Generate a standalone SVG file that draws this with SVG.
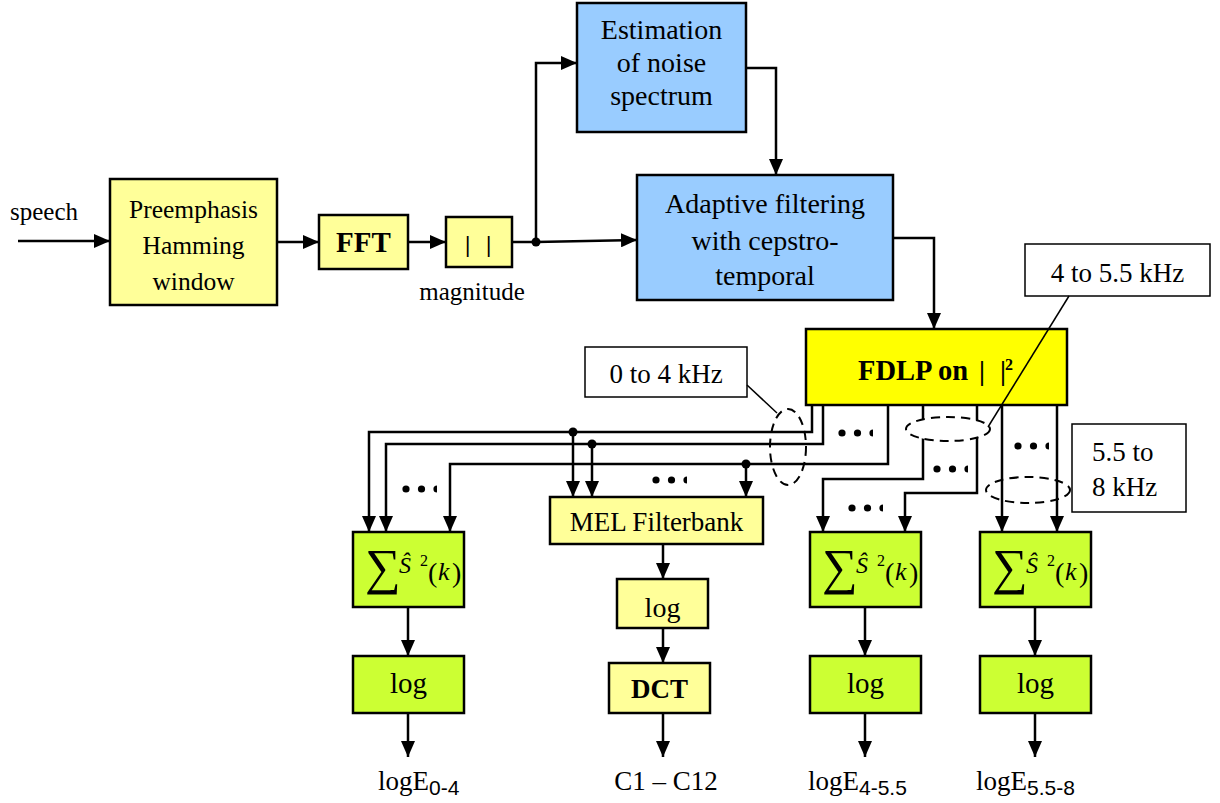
<svg xmlns="http://www.w3.org/2000/svg" xmlns:xlink="http://www.w3.org/1999/xlink" width="1220" height="803" viewBox="0 0 1220 803">
<style>
  text { font-family: "Liberation Serif", "Times New Roman", serif; fill: #000; }
  .box { stroke: #000; stroke-width: 2.5; }
  .yel { fill: #FFFF99; }
  .blue { fill: #99CCFF; }
  .fdlp { fill: #FFFF00; }
  .grn { fill: #CCFF33; }
  .call { fill: #fff; stroke: #000; stroke-width: 1.5; }
  .c { text-anchor: middle; }
  .conn path { fill: none; stroke: #000; stroke-width: 2.5; }
  .arr { marker-end: url(#ah); }
  .dash { fill: none; stroke: #000; stroke-width: 2; stroke-dasharray: 9 6; }
  .lead { stroke: #000; stroke-width: 1.5; fill: none; }
  .sub { font-family: "Liberation Sans", Arial, sans-serif; font-size: 21px; }
</style>
<defs>
  <marker id="ah" markerUnits="userSpaceOnUse" markerWidth="16" markerHeight="14" viewBox="0 0 16 14" refX="16" refY="7" orient="auto">
    <path d="M0,0 L16,7 L0,14 z" fill="#000"/>
  </marker>
  <g id="sumf">
    <text x="12" y="52" font-size="50">∑</text>
    <text x="46" y="41" font-size="24" font-style="italic">Ŝ</text>
    <text x="67" y="34" font-size="16">2</text>
    <text x="75" y="50" font-size="28">(</text>
    <text x="85" y="48" font-size="26" font-style="italic">k</text>
    <text x="99" y="50" font-size="28">)</text>
  </g>
  <g id="dots3">
    <circle cx="0" cy="0" r="3.6"/>
    <circle cx="15.5" cy="0" r="3.6"/>
    <path d="M31,-3.6 A3.6,3.6 0 0 0 31,3.6 z"/>
  </g>
</defs>

<text x="10" y="220" font-size="25">speech</text>

<g id="preemph">
  <rect class="box yel" x="110" y="179" width="167" height="126"/>
  <text class="c" x="193.5" y="218" font-size="25.5">Preemphasis</text>
  <text class="c" x="193.5" y="254" font-size="25.5">Hamming</text>
  <text class="c" x="193.5" y="290" font-size="25.5">window</text>
</g>
<g id="fft">
  <rect class="box yel" x="319" y="215" width="89" height="54"/>
  <text class="c" x="363.5" y="252" font-size="29" font-weight="bold">FFT</text>
</g>
<g id="mag">
  <rect class="box yel" x="446" y="217" width="66" height="50"/>
  <text x="465" y="252" font-size="24" font-weight="bold">|</text>
  <text x="486" y="252" font-size="24" font-weight="bold">|</text>
  <text class="c" x="472" y="300" font-size="25">magnitude</text>
</g>
<g id="estim">
  <rect class="box blue" x="577" y="3" width="169" height="129"/>
  <text class="c" x="661.5" y="39" font-size="28">Estimation</text>
  <text class="c" x="661.5" y="72" font-size="28">of noise</text>
  <text class="c" x="661.5" y="105" font-size="28">spectrum</text>
</g>
<g id="adapt">
  <rect class="box blue" x="637" y="175" width="256" height="125"/>
  <text class="c" x="765" y="213" font-size="28">Adaptive filtering</text>
  <text class="c" x="765" y="250" font-size="28">with cepstro-</text>
  <text class="c" x="765" y="285" font-size="28">temporal</text>
</g>
<g id="fdlp">
  <rect class="box fdlp" x="806" y="329" width="261" height="76"/>
  <text x="858" y="380" font-size="28.5" font-weight="bold">FDLP on</text>
  <text x="979" y="380" font-size="27" font-weight="bold">|</text>
  <text x="1000" y="380" font-size="27" font-weight="bold">|</text>
  <text x="1005" y="370" font-size="16" font-weight="bold">2</text>
</g>
<g id="sum1">
  <rect class="box grn" x="353" y="532" width="111" height="75"/>
  <use xlink:href="#sumf" x="353" y="532"/>
</g>
<g id="log1">
  <rect class="box grn" x="353" y="656" width="111" height="57"/>
  <text class="c" x="408.5" y="693" font-size="29">log</text>
</g>
<g id="mel">
  <rect class="box yel" x="550" y="497" width="213" height="47"/>
  <text class="c" x="656.5" y="531" font-size="27">MEL Filterbank</text>
</g>
<g id="logm">
  <rect class="box yel" x="617" y="579" width="91" height="49"/>
  <text class="c" x="662.5" y="617" font-size="28">log</text>
</g>
<g id="dct">
  <rect class="box yel" x="609" y="663" width="101" height="50"/>
  <text class="c" x="659.5" y="698" font-size="27" font-weight="bold">DCT</text>
</g>
<g id="sum3">
  <rect class="box grn" x="810" y="532" width="111" height="75"/>
  <use xlink:href="#sumf" x="810" y="532"/>
</g>
<g id="log3">
  <rect class="box grn" x="810" y="656" width="111" height="57"/>
  <text class="c" x="865.5" y="693" font-size="29">log</text>
</g>
<g id="sum4">
  <rect class="box grn" x="980" y="532" width="111" height="75"/>
  <use xlink:href="#sumf" x="980" y="532"/>
</g>
<g id="log4">
  <rect class="box grn" x="980" y="656" width="111" height="57"/>
  <text class="c" x="1035.5" y="693" font-size="29">log</text>
</g>

<g id="connectors" class="conn">
  <path class="arr" d="M18,241 H110"/>
  <path class="arr" d="M277,242 H319"/>
  <path class="arr" d="M408,242 H446"/>
  <path class="arr" d="M512,242 H536 L637,240"/>
  <path class="arr" d="M536,242 V63 H577"/>
  <path class="arr" d="M746,68 H776 V175"/>
  <path class="arr" d="M893,238 H934 V329"/>
  <path class="arr" d="M812,405 V432 H369 V532"/>
  <path class="arr" d="M823,405 V444 H386 V532"/>
  <path class="arr" d="M888,405 V464 H450 V532"/>
  <path class="arr" d="M573,432 V497"/>
  <path class="arr" d="M592,444 V497"/>
  <path class="arr" d="M746,464 V497"/>
  <path class="arr" d="M923,405 V479 H823 V532"/>
  <path class="arr" d="M977,405 V493 H905 V532"/>
  <path class="arr" d="M1002,405 V532"/>
  <path class="arr" d="M1057,405 V532"/>
  <path class="arr" d="M408,607 V656"/>
  <path class="arr" d="M408,713 V757"/>
  <path class="arr" d="M663,544 V579"/>
  <path class="arr" d="M663,628 V663"/>
  <path class="arr" d="M663,713 V757"/>
  <path class="arr" d="M865,607 V656"/>
  <path class="arr" d="M865,713 V757"/>
  <path class="arr" d="M1035,607 V656"/>
  <path class="arr" d="M1035,713 V757"/>
  <circle cx="536" cy="242" r="4.5"/>
  <circle cx="573" cy="432" r="4.5"/>
  <circle cx="592" cy="444" r="4.5"/>
  <circle cx="746" cy="464" r="4.5"/>
  <use xlink:href="#dots3" x="406" y="489"/>
  <use xlink:href="#dots3" x="656" y="480"/>
  <use xlink:href="#dots3" x="842" y="433"/>
  <use xlink:href="#dots3" x="937" y="469"/>
  <use xlink:href="#dots3" x="852" y="508"/>
  <use xlink:href="#dots3" x="1018" y="446"/>
</g>

<g id="groupings">
  <ellipse class="dash" cx="788" cy="447" rx="18" ry="38"/>
  <ellipse class="dash" cx="948" cy="429" rx="42" ry="12" style="fill:#fff"/>
  <ellipse class="dash" cx="1028" cy="490" rx="42" ry="13"/>
</g>

<g id="callout-0-4">
  <rect class="call" x="585" y="347" width="162" height="50"/>
  <text class="c" x="666" y="383" font-size="27">0 to 4 kHz</text>
  <path class="lead" d="M747,385 L777,413"/>
</g>
<g id="callout-4-55">
  <rect class="call" x="1025" y="244" width="185" height="52"/>
  <text class="c" x="1117.5" y="282" font-size="27">4 to 5.5 kHz</text>
  <path class="lead" d="M1069,296 L988,427"/>
</g>
<g id="callout-55-8">
  <rect class="call" x="1072" y="424" width="114" height="88"/>
  <text x="1092" y="461" font-size="27">5.5 to</text>
  <text x="1092" y="496" font-size="27">8 kHz</text>
</g>

<g id="outputs">
  <text x="378" y="790" font-size="27">logE<tspan class="sub" dy="5">0-4</tspan></text>
  <text class="c" x="666" y="790" font-size="27">C1 – C12</text>
  <text x="808" y="790" font-size="27">logE<tspan class="sub" dy="5">4-5.5</tspan></text>
  <text x="976" y="790" font-size="27">logE<tspan class="sub" dy="5">5.5-8</tspan></text>
</g>
</svg>
